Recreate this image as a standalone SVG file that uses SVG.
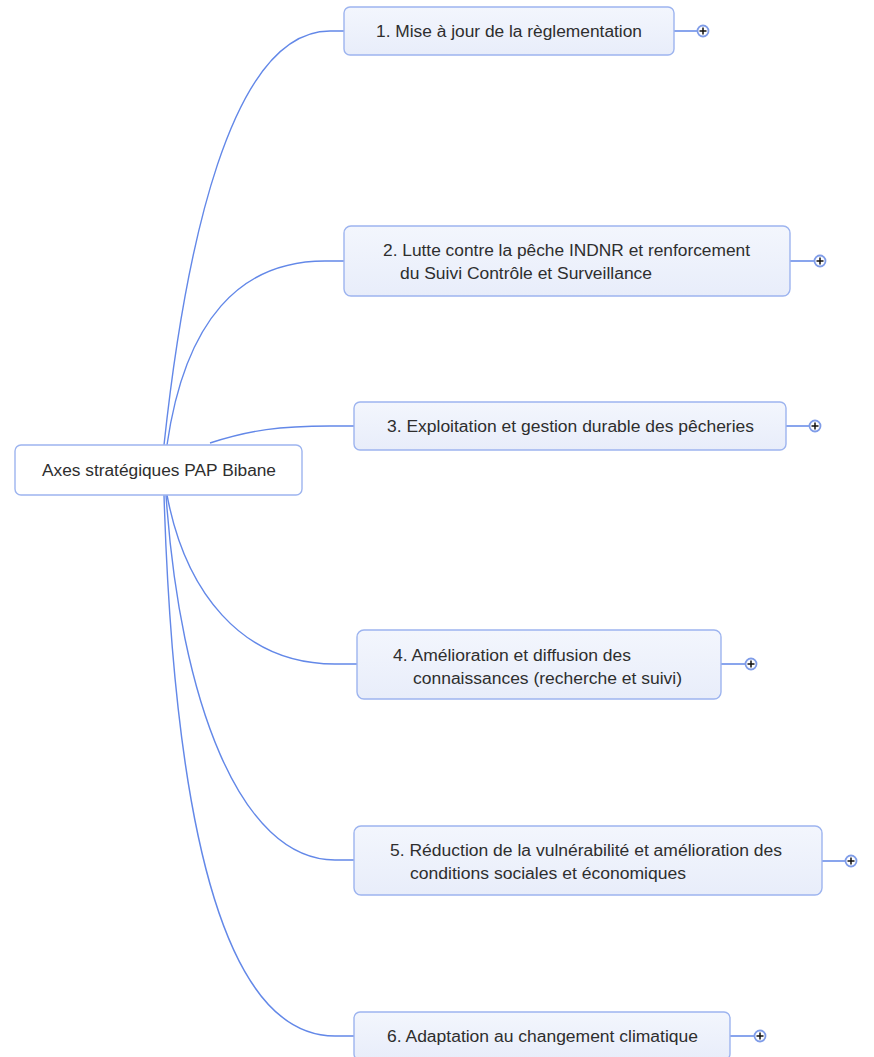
<svg xmlns="http://www.w3.org/2000/svg" width="874" height="1057" viewBox="0 0 874 1057">
<style>
.box{fill:url(#g);stroke:#9db4ef;stroke-width:1.4}
.root{fill:#ffffff;stroke:#9db4ef;stroke-width:1.4}
.t{font-family:"Liberation Sans",Arial,sans-serif;font-size:16px;fill:#2e2e2e}
.c{fill:none;stroke:#6388e8;stroke-width:1.4}
.pc{fill:#ffffff;stroke:#7f9ce8;stroke-width:1.8}
.pl{stroke:#111111;stroke-width:1.5}
</style>
<defs>
<linearGradient id="g" x1="0" y1="0" x2="0" y2="1">
<stop offset="0" stop-color="#f3f6fd"/>
<stop offset="1" stop-color="#e8edfa"/>
</linearGradient>
</defs>
<g id="connectors">
<path class="c" d="M164,445 C185,250 230,31 330,31 L344,31"/>
<path class="c" d="M167,445 C185,320 240,261 325,261 L344,261"/>
<path class="c" d="M210,443 C250,430 280,426 330,426 L354,426"/>
<path class="c" d="M167,495 C185,590 240,664 335,664 L357,664"/>
<path class="c" d="M166,495 C180,700 240,860 335,860 L354,860"/>
<path class="c" d="M164,495 C175,850 230,1036 335,1036 L354,1036"/>
<path class="c" d="M674,31 H698 M790,261 H815 M786,426 H810 M721,664 H746 M822,861 H846 M730,1036 H755"/>
</g>
<g id="root">
<rect class="root" x="15" y="445" width="287" height="50" rx="6"/>
<text class="t" x="42" y="476" textLength="234" lengthAdjust="spacingAndGlyphs">Axes stratégiques PAP Bibane</text>
</g>
<g id="n1">
<rect class="box" x="344" y="7" width="330" height="48" rx="6"/>
<text class="t" x="376" y="37" textLength="266" lengthAdjust="spacingAndGlyphs">1. Mise à jour de la règlementation</text>
<circle class="pc" cx="703" cy="31" r="5.5"/><path class="pl" d="M699.5,31 H706.5 M703,27.5 V34.5"/>
</g>
<g id="n2">
<rect class="box" x="344" y="226" width="446" height="70" rx="7"/>
<text class="t" x="383" y="256" textLength="367" lengthAdjust="spacingAndGlyphs">2. Lutte contre la pêche INDNR et renforcement</text>
<text class="t" x="400" y="279" textLength="252" lengthAdjust="spacingAndGlyphs">du Suivi Contrôle et Surveillance</text>
<circle class="pc" cx="820" cy="261" r="5.5"/><path class="pl" d="M816.5,261 H823.5 M820,257.5 V264.5"/>
</g>
<g id="n3">
<rect class="box" x="354" y="402" width="432" height="48" rx="6"/>
<text class="t" x="387" y="432" textLength="367" lengthAdjust="spacingAndGlyphs">3. Exploitation et gestion durable des pêcheries</text>
<circle class="pc" cx="815" cy="426" r="5.5"/><path class="pl" d="M811.5,426 H818.5 M815,422.5 V429.5"/>
</g>
<g id="n4">
<rect class="box" x="357" y="630" width="364" height="69" rx="7"/>
<text class="t" x="393" y="661" textLength="238" lengthAdjust="spacingAndGlyphs">4. Amélioration et diffusion des</text>
<text class="t" x="413" y="684" textLength="269" lengthAdjust="spacingAndGlyphs">connaissances (recherche et suivi)</text>
<circle class="pc" cx="751" cy="664" r="5.5"/><path class="pl" d="M747.5,664 H754.5 M751,660.5 V667.5"/>
</g>
<g id="n5">
<rect class="box" x="354" y="826" width="468" height="69" rx="7"/>
<text class="t" x="390" y="856" textLength="392" lengthAdjust="spacingAndGlyphs">5. Réduction de la vulnérabilité et amélioration des</text>
<text class="t" x="410" y="879" textLength="276" lengthAdjust="spacingAndGlyphs">conditions sociales et économiques</text>
<circle class="pc" cx="851" cy="861" r="5.5"/><path class="pl" d="M847.5,861 H854.5 M851,857.5 V864.5"/>
</g>
<g id="n6">
<rect class="box" x="354" y="1012" width="376" height="48" rx="6"/>
<text class="t" x="387" y="1042" textLength="311" lengthAdjust="spacingAndGlyphs">6. Adaptation au changement climatique</text>
<circle class="pc" cx="760" cy="1036" r="5.5"/><path class="pl" d="M756.5,1036 H763.5 M760,1032.5 V1039.5"/>
</g>
</svg>
